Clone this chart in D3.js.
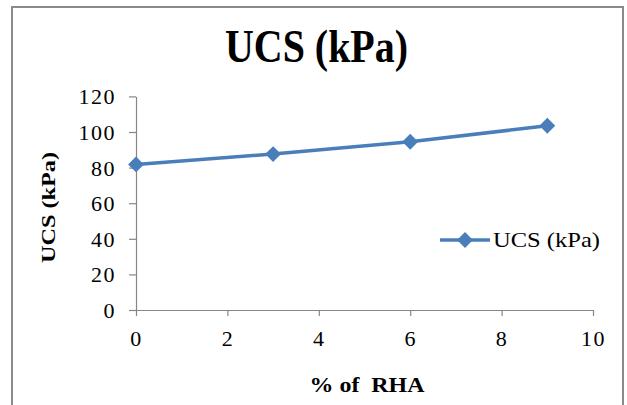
<!DOCTYPE html>
<html>
<head>
<meta charset="utf-8">
<script src="https://cdn.jsdelivr.net/npm/d3@7"></script>
<style>
  html, body { margin: 0; padding: 0; background: #fff; }
  svg { display: block; }
  svg text { font-family: "Liberation Serif", "Times New Roman", serif; }
</style>
</head>
<body>
<svg id="chart"></svg>
<script>
// data
var rhaPct = [0, 3, 6, 9];
var ucsVals = [81.8, 87.6, 94.5, 103.5];
var xTicks = [0, 2, 4, 6, 8, 10];
var yTicks = [0, 20, 40, 60, 80, 100, 120];
var seriesName = "UCS (kPa)";

var W = 627, H = 405;
var blue = "#4a7ebb";
var axisGrey = "#868686";

var svg = d3.select("#chart").attr("width", W).attr("height", H);

// outer frame
svg.append("rect")
  .attr("x", 12).attr("y", 7)
  .attr("width", 611).attr("height", 410)
  .attr("fill", "#fff")
  .attr("stroke", "#8a8a8a")
  .attr("stroke-width", 2);

// plot area
var pLeft = 136, pRight = 593, pTop = 96.4, pBottom = 310;

var x = d3.scaleLinear().domain([0, 10]).range([pLeft, pRight]);
var y = d3.scaleLinear().domain([0, 120]).range([pBottom, pTop]);

// y axis
var yAxis = svg.append("g")
  .attr("transform", "translate(" + pLeft + ",0)")
  .call(d3.axisLeft(y).tickValues(yTicks).tickSize(7).tickPadding(13).tickSizeOuter(0));
// x axis
var xAxis = svg.append("g")
  .attr("transform", "translate(0," + pBottom + ")")
  .call(d3.axisBottom(x).tickValues(xTicks).tickSize(6).tickPadding(15).tickSizeOuter(0));

[xAxis, yAxis].forEach(function(g){
  g.select(".domain").attr("stroke", axisGrey).attr("stroke-width", 1.2);
  g.selectAll(".tick line").attr("stroke", axisGrey).attr("stroke-width", 1.2);
  g.selectAll(".tick text")
    .attr("fill", "#000")
    .style("font-family", "Liberation Serif, serif")
    .style("font-size", "22px")
    .style("letter-spacing", "1.5px");
});
yAxis.selectAll(".tick text").attr("dy", "0.34em");
xAxis.selectAll(".tick text").attr("dy", "0.68em");

// series line
var line = d3.line()
  .x(function(d, i){ return x(rhaPct[i]); })
  .y(function(d){ return y(d); });

svg.append("path")
  .datum(ucsVals)
  .attr("d", line)
  .attr("fill", "none")
  .attr("stroke", blue)
  .attr("stroke-width", 3.5)
  .attr("stroke-linejoin", "round");

var diamond = d3.symbol().type(d3.symbolDiamond2).size(160);

svg.selectAll(".pt")
  .data(ucsVals).enter()
  .append("path")
    .attr("class", "pt")
    .attr("d", diamond)
    .attr("transform", function(d, i){ return "translate(" + x(rhaPct[i]) + "," + y(d) + ")"; })
    .attr("fill", blue);

// title
svg.append("text")
  .attr("x", 316.5).attr("y", 62)
  .attr("text-anchor", "middle")
  .attr("font-size", 46)
  .attr("font-weight", "bold")
  .attr("textLength", 183)
  .attr("lengthAdjust", "spacingAndGlyphs")
  .text("UCS (kPa)");

// axis titles
svg.append("text")
  .attr("x", 367).attr("y", 392)
  .attr("text-anchor", "middle")
  .attr("font-size", 20)
  .attr("font-weight", "bold")
  .attr("textLength", 115)
  .attr("lengthAdjust", "spacingAndGlyphs")
  .style("white-space", "pre")
  .text("% of  RHA");

svg.append("text")
  .attr("transform", "translate(55,207.5) rotate(-90)")
  .attr("text-anchor", "middle")
  .attr("font-size", 19)
  .attr("font-weight", "bold")
  .attr("textLength", 111)
  .attr("lengthAdjust", "spacingAndGlyphs")
  .text("UCS (kPa)");

// legend
var lg = svg.append("g");
lg.append("line")
  .attr("x1", 440).attr("x2", 490)
  .attr("y1", 240).attr("y2", 240)
  .attr("stroke", blue).attr("stroke-width", 3.5);
lg.append("path")
  .attr("d", diamond)
  .attr("transform", "translate(465,240)")
  .attr("fill", blue);
lg.append("text")
  .attr("x", 493).attr("y", 247)
  .attr("font-size", 22)
  .attr("textLength", 107)
  .attr("lengthAdjust", "spacingAndGlyphs")
  .text(seriesName);
</script>
</body>
</html>
